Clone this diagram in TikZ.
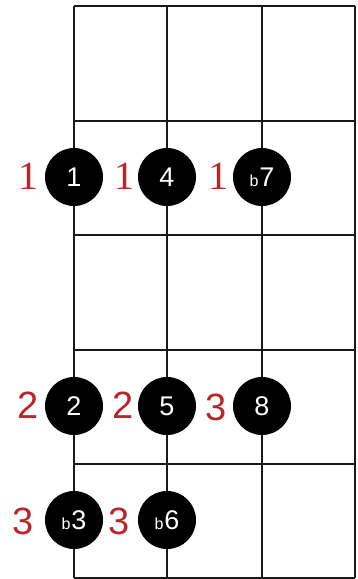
\documentclass[tikz,border=0pt]{standalone}
\usepackage{fontspec}
\setmainfont{Liberation Sans}
\newfontfamily\serifnum{Liberation Serif}
\definecolor{fingred}{RGB}{185,38,42}
\definecolor{gridc}{RGB}{25,25,25}
\begin{document}
\begin{tikzpicture}[x=1pt,y=-1pt,
  gridline/.style={draw=gridc,line width=2pt},
  dot/.style={circle,fill=black,minimum size=58pt,inner sep=0pt,text=white,font=\fontsize{27}{27}\selectfont},
  fing/.style={text=fingred,inner sep=0pt,font=\fontsize{38}{38}\selectfont},
  fingone/.style={text=fingred,inner sep=0pt,font=\serifnum\fontsize{40}{40}\selectfont}]
\useasboundingbox (0,0) rectangle (357,579);
% grid
\foreach \x in {74,167,262,355} \draw[gridline] (\x,6) -- (\x,578);
\foreach \y in {6,121,235,350,464,578} \draw[gridline] (74,\y) -- (355,\y);
% dots
\newcommand{\fl}{{\fontsize{16}{16}\selectfont b\kern1pt}}
\node[dot] (d1) at (74,177) {1};
\node[dot] (d4) at (167,177) {4};
\node[dot] (d7) at (262,177) {\fl7};
\node[dot] (d2) at (74,406) {2};
\node[dot] (d5) at (167,406) {5};
\node[dot] (d8) at (262,406) {8};
\node[dot] (d3) at (74,520) {\fl3};
\node[dot] (d6) at (167,520) {\fl6};
% fingerings
\node[fingone] (f1) at (28,176) {1};
\node[fingone] (f4) at (124,176) {1};
\node[fingone] (f7) at (218,176) {1};
\node[fing] (f2) at (28,405) {2};
\node[fing] (f5) at (123,405) {2};
\node[fing] (f8) at (216,407) {3};
\node[fing] (f3) at (23,521) {3};
\node[fing] (f6) at (119,521) {3};
\end{tikzpicture}
\end{document}
